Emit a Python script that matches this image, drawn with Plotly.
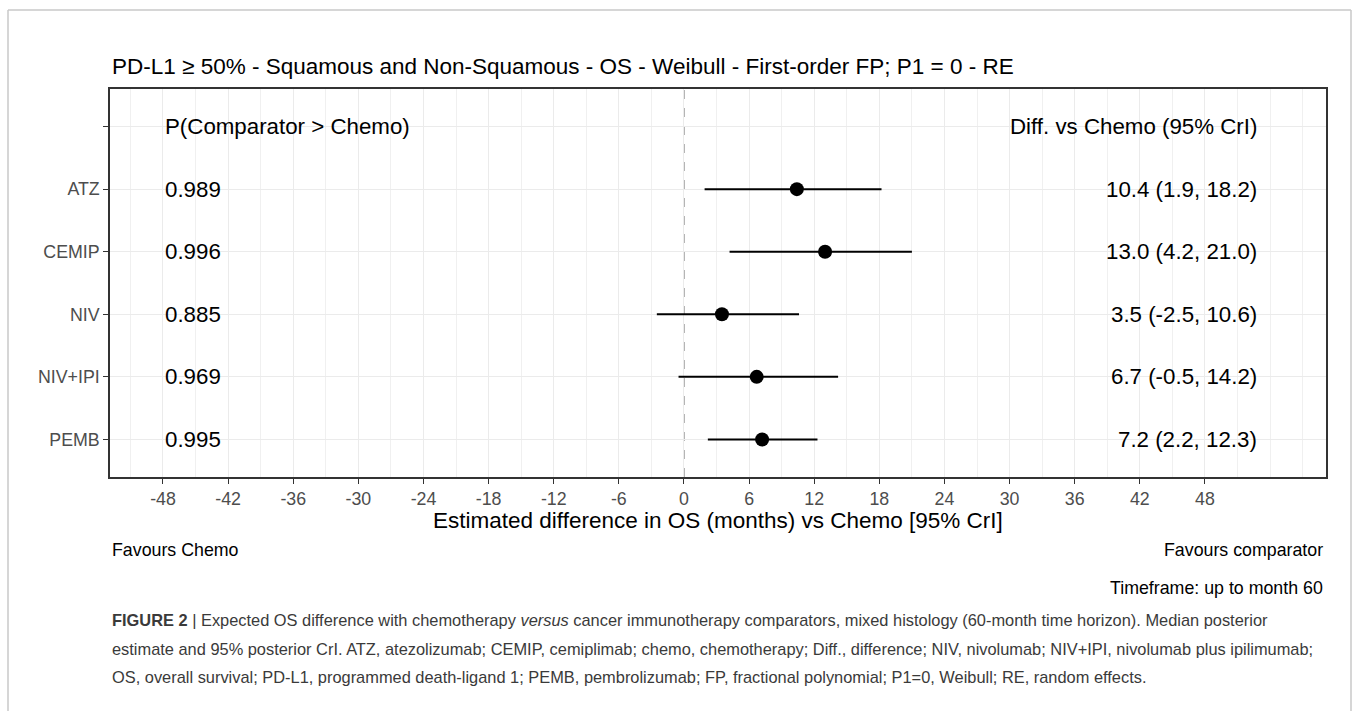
import plotly.graph_objects as go

# ---- data ----
treatments = ["ATZ", "CEMIP", "NIV", "NIV+IPI", "PEMB"]
median_diff = [10.4, 13.0, 3.5, 6.7, 7.2]
lower_cri = [1.9, 4.2, -2.5, -0.5, 2.2]
upper_cri = [18.2, 21.0, 10.6, 14.2, 12.3]
prob_better = ["0.989", "0.996", "0.885", "0.969", "0.995"]
x_ticks = [-48, -42, -36, -30, -24, -18, -12, -6, 0, 6, 12, 18, 24, 30, 36, 42, 48]

W, H = 1355, 711
L, R, T, B = 110, 1326, 89, 477

def px(x):
    return (x - L) / (R - L)

def py(y):
    return (B - y) / (B - T)

n = len(treatments)
ypos = [n - 1 - i for i in range(n)]  # ATZ top ... PEMB = 0
header_y = n

fig = go.Figure()

fig.add_trace(go.Scatter(
    x=median_diff, y=ypos, mode="markers",
    marker=dict(color="black", size=14),
    error_x=dict(type="data", symmetric=False,
                 array=[u - m for u, m in zip(upper_cri, median_diff)],
                 arrayminus=[m - l for m, l in zip(median_diff, lower_cri)],
                 width=0, thickness=2, color="black"),
    showlegend=False, hoverinfo="skip"))

txt_font = dict(family="Liberation Sans, Arial", size=22.3, color="black")

# header row texts
fig.add_annotation(x=-48, y=header_y, text="P(Comparator > Chemo)", xref="x", yref="y",
                   xanchor="left", yanchor="middle", showarrow=False, font=txt_font)
fig.add_annotation(x=53, y=header_y, text="Diff. vs Chemo (95% CrI)", xref="x", yref="y",
                   xanchor="right", yanchor="middle", showarrow=False, font=txt_font)
for i in range(n):
    fig.add_annotation(x=-48, y=ypos[i], text=prob_better[i], xref="x", yref="y",
                       xanchor="left", yanchor="middle", showarrow=False, font=txt_font)
    lab = f"{median_diff[i]:.1f} ({lower_cri[i]:.1f}, {upper_cri[i]:.1f})"
    fig.add_annotation(x=53, y=ypos[i], text=lab, xref="x", yref="y",
                       xanchor="right", yanchor="middle", showarrow=False, font=txt_font)

# zero reference line
fig.add_shape(type="line", x0=0, x1=0, y0=-0.6, y1=n + 0.6, xref="x", yref="y",
              line=dict(color="#999999", width=1.5, dash="dash"), layer="below")

# title
fig.add_annotation(x=0, y=py(66), xref="paper", yref="paper", xanchor="left", yanchor="middle",
                   text="PD-L1 ≥ 50% - Squamous and Non-Squamous - OS - Weibull - First-order FP; P1 = 0 - RE",
                   showarrow=False, font=dict(family="Liberation Sans, Arial", size=22.5, color="black"))
# x axis title
fig.add_annotation(x=0.5, y=py(520), xref="paper", yref="paper", xanchor="center", yanchor="middle",
                   text="Estimated difference in OS (months) vs Chemo [95% CrI]",
                   showarrow=False, font=dict(family="Liberation Sans, Arial", size=22.5, color="black"))
small = dict(family="Liberation Sans, Arial", size=17.8, color="black")
fig.add_annotation(x=0, y=py(550), xref="paper", yref="paper", xanchor="left", yanchor="middle",
                   text="Favours Chemo", showarrow=False, font=small)
fig.add_annotation(x=px(1325), y=py(550), xref="paper", yref="paper", xanchor="right", yanchor="middle",
                   text="Favours comparator", showarrow=False, font=small)
fig.add_annotation(x=px(1325), y=py(588), xref="paper", yref="paper", xanchor="right", yanchor="middle",
                   text="Timeframe: up to month 60", showarrow=False, font=small)

# caption
cap_font = dict(family="Liberation Sans, Arial", size=16.4, color="#3a3a3a")
caption_lines = [
    "<b>FIGURE 2</b> | Expected OS difference with chemotherapy <i>versus</i> cancer immunotherapy comparators, mixed histology (60-month time horizon). Median posterior",
    "estimate and 95% posterior CrI. ATZ, atezolizumab; CEMIP, cemiplimab; chemo, chemotherapy; Diff., difference; NIV, nivolumab; NIV+IPI, nivolumab plus ipilimumab;",
    "OS, overall survival; PD-L1, programmed death-ligand 1; PEMB, pembrolizumab; FP, fractional polynomial; P1=0, Weibull; RE, random effects.",
]
for k, line in enumerate(caption_lines):
    fig.add_annotation(x=0, y=py(620 + 28.5 * k), xref="paper", yref="paper", xanchor="left",
                       yanchor="middle", text=line, showarrow=False, font=cap_font)

# outer border (top, left, right)
bc = "#c8c8c8"
fig.add_shape(type="line", xref="paper", yref="paper", x0=px(8), x1=px(1351), y0=py(10), y1=py(10),
              line=dict(color=bc, width=1.5))
fig.add_shape(type="line", xref="paper", yref="paper", x0=px(8), x1=px(8), y0=py(10), y1=py(712),
              line=dict(color=bc, width=1.5))
fig.add_shape(type="line", xref="paper", yref="paper", x0=px(1351), x1=px(1351), y0=py(10), y1=py(712),
              line=dict(color=bc, width=1.5))

fig.update_layout(
    width=W, height=H,
    margin=dict(l=L, r=W - R, t=T, b=H - B),
    paper_bgcolor="white", plot_bgcolor="white",
    font=dict(family="Liberation Sans, Arial"),
    xaxis=dict(range=[-52.88, 59.15], tickvals=x_ticks, ticktext=[str(v) for v in x_ticks],
               showgrid=True, gridcolor="#ebebeb", gridwidth=1.2,
               minor=dict(dtick=3, tick0=0, showgrid=True, gridcolor="#f0f0f0", gridwidth=1),
               ticks="outside", ticklen=5, tickcolor="#333333", tickwidth=1,
               tickfont=dict(size=17.8, color="#4d4d4d"),
               showline=True, linecolor="#333333", linewidth=1.5, mirror=True, zeroline=False),
    yaxis=dict(range=[-0.6, n + 0.6], tickvals=ypos + [header_y], ticktext=treatments + [""],
               showgrid=True, gridcolor="#ebebeb", gridwidth=1.2,
               ticks="outside", ticklen=5, tickcolor="#333333", tickwidth=1,
               tickfont=dict(size=17.8, color="#4d4d4d"),
               showline=True, linecolor="#333333", linewidth=1.5, mirror=True, zeroline=False),
)

fig.write_html("out.html")
